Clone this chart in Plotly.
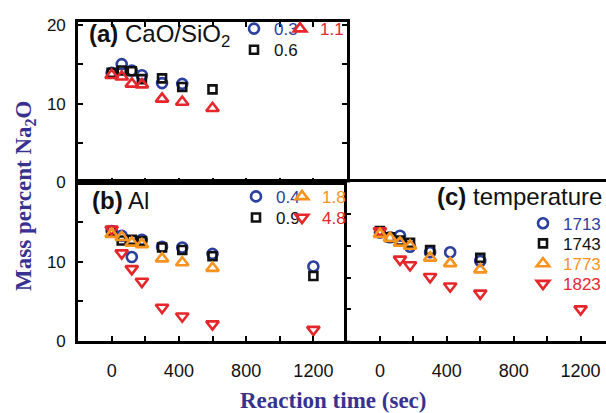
import plotly.graph_objects as go

# ---------------- data ----------------
# panel (a): CaO/SiO2
t_a = [0, 60, 120, 180, 300, 420, 600]
a_03 = [13.9, 15.0, 14.2, 13.6, 12.6, 12.5]
a_06 = [13.9, 14.2, 14.1, 13.1, 13.2, 12.1, 11.8]
a_11 = [13.6, 13.4, 12.5, 12.4, 10.6, 10.2, 9.4]

# panel (b): Al
t_b = [0, 60, 120, 180, 300, 420, 600, 1200]
b_04 = [13.9, 13.3, 10.6, 12.8, 11.9, 11.8, 11.0, 9.4]
b_09 = [13.9, 12.7, 12.8, 12.6, 11.8, 11.5, 10.7, 8.2]
b_18 = [13.5, 13.1, 12.4, 12.2, 10.4, 9.9, 9.2]
b_48 = [14.1, 11.1, 9.1, 7.5, 4.2, 3.1, 2.1, 1.4]

# panel (c): temperature
t_c1713 = [0, 60, 120, 180, 300, 420, 600]
c_1713 = [13.7, 13.1, 13.3, 11.9, 11.2, 11.2, 10.1]
t_c1743 = [0, 60, 120, 180, 300, 600]
c_1743 = [13.9, 13.1, 12.7, 12.4, 11.5, 10.5]
t_c1773 = [0, 60, 120, 180, 300, 420, 600]
c_1773 = [13.5, 13.0, 12.4, 12.0, 10.5, 9.8, 9.0]
t_c1823 = [0, 120, 180, 300, 420, 600, 1200]
c_1823 = [13.9, 10.3, 9.6, 8.1, 6.9, 6.0, 4.0]

x_tick_vals = [0, 200, 400, 600, 800, 1000, 1200]
x_tick_text = ["0", "", "400", "", "800", "", "1200"]
ya_tick_vals = [0, 5, 10, 15, 20]
ya_tick_text = ["0", "", "10", "", "20"]
yb_tick_vals = [0, 5, 10, 15]
yb_tick_text = ["0", "", "10", ""]
yc_tick_vals = [4, 8, 12, 16]

# ---------------- style ----------------
BLUE = "#2b3f9e"
BLACK = "#111111"
RED = "#e5262b"
ORANGE = "#f7931e"
TITLE_C = "#38318f"
W, H = 606, 413
LW = 2.6
MLW = 2.6


def mk(symbol, color, size):
    return dict(symbol=symbol, size=size, color=color,
                line=dict(color=color, width=MLW))


def lname(txt, color):
    return f"<span style='color:{color}'>{txt}</span>"


fig = go.Figure()
# panel (a)
fig.add_trace(go.Scatter(x=t_a[:len(a_03)], y=a_03, mode="markers", marker=mk("circle-open", BLUE, 10),
                         name=lname("0.3", BLUE), legend="legend", xaxis="x", yaxis="y"))
fig.add_trace(go.Scatter(x=t_a, y=a_06, mode="markers", marker=mk("square-open", BLACK, 8),
                         name=lname("0.6", BLACK), legend="legend3", xaxis="x", yaxis="y"))
fig.add_trace(go.Scatter(x=t_a, y=a_11, mode="markers", marker=mk("triangle-up-open", RED, 11),
                         name=lname("1.1", RED), legend="legend2", xaxis="x", yaxis="y"))
# panel (b)
fig.add_trace(go.Scatter(x=t_b, y=b_04, mode="markers", marker=mk("circle-open", BLUE, 10),
                         name=lname("0.4", BLUE), legend="legend4", xaxis="x2", yaxis="y2"))
fig.add_trace(go.Scatter(x=t_b, y=b_09, mode="markers", marker=mk("square-open", BLACK, 8),
                         name=lname("0.9", BLACK), legend="legend6", xaxis="x2", yaxis="y2"))
fig.add_trace(go.Scatter(x=t_b, y=b_48, mode="markers", marker=mk("triangle-down-open", RED, 11),
                         name=lname("4.8", RED), legend="legend7", xaxis="x2", yaxis="y2"))
fig.add_trace(go.Scatter(x=t_b[:len(b_18)], y=b_18, mode="markers", marker=mk("triangle-up-open", ORANGE, 11),
                         name=lname("1.8", ORANGE), legend="legend5", xaxis="x2", yaxis="y2"))
# panel (c)
fig.add_trace(go.Scatter(x=t_c1713, y=c_1713, mode="markers", marker=mk("circle-open", BLUE, 10),
                         name=lname("1713", BLUE), legend="legend8", xaxis="x3", yaxis="y3"))
fig.add_trace(go.Scatter(x=t_c1743, y=c_1743, mode="markers", marker=mk("square-open", BLACK, 8),
                         name=lname("1743", BLACK), legend="legend9", xaxis="x3", yaxis="y3"))
fig.add_trace(go.Scatter(x=t_c1823, y=c_1823, mode="markers", marker=mk("triangle-down-open", RED, 11),
                         name=lname("1823", RED), legend="legend11", xaxis="x3", yaxis="y3"))
fig.add_trace(go.Scatter(x=t_c1773, y=c_1773, mode="markers", marker=mk("triangle-up-open", ORANGE, 11),
                         name=lname("1773", ORANGE), legend="legend10", xaxis="x3", yaxis="y3"))

tick_font = dict(family="Liberation Sans, Arial, sans-serif", size=17, color="#111")
common_ax = dict(showline=True, linewidth=LW, linecolor="black", ticks="inside", ticklen=5,
                 tickwidth=1.5, tickcolor="black", showgrid=False, zeroline=False,
                 tickfont=tick_font)

dom_ab_x = [78 / W, 347 / W]
dom_c_x = [346.5 / W, 1.0]
dom_a_y = [(H - 183) / H, (H - 16) / H]
dom_bc_y = [(H - 348) / H, (H - 183) / H]

fig.update_layout(
    width=W, height=H,
    margin=dict(l=0, r=0, t=0, b=0),
    paper_bgcolor="white", plot_bgcolor="white",
    xaxis=dict(domain=dom_ab_x, range=[-200, 1400], anchor="y", tickmode="array",
               tickvals=x_tick_vals, ticktext=x_tick_text, showticklabels=False,
               mirror="ticks", **common_ax),
    yaxis=dict(domain=dom_a_y, range=[0, 20.3], anchor="x", tickmode="array",
               tickvals=ya_tick_vals, ticktext=ya_tick_text, mirror="ticks",
               ticklabelstandoff=6, **common_ax),
    xaxis2=dict(domain=dom_ab_x, range=[-200, 1400], anchor="y2", tickmode="array",
                tickvals=x_tick_vals, ticktext=x_tick_text, mirror=True,
                ticklabelstandoff=12, **{**common_ax, "tickfont": dict(tick_font, size=18)}),
    yaxis2=dict(domain=dom_bc_y, range=[0, 20.05], anchor="x2", tickmode="array",
                tickvals=yb_tick_vals, ticktext=yb_tick_text, mirror=True,
                ticklabelstandoff=6, **common_ax),
    xaxis3=dict(domain=dom_c_x, range=[-200, 1352], anchor="y3", tickmode="array",
                tickvals=x_tick_vals, ticktext=x_tick_text, mirror=True,
                ticklabelstandoff=12, **{**common_ax, "tickfont": dict(tick_font, size=18)}),
    yaxis3=dict(domain=dom_bc_y, range=[0, 20.05], anchor="x3", tickmode="array",
                tickvals=yc_tick_vals, showticklabels=False, mirror=False, **common_ax),
    showlegend=True,
)

leg_common = dict(bgcolor="rgba(0,0,0,0)", borderwidth=0, itemwidth=30,
                  font=dict(family="Liberation Sans, Arial, sans-serif", size=17),
                  xanchor="left", yanchor="middle", tracegroupgap=0,
                  itemclick=False, itemdoubleclick=False)
leg_right = {**leg_common, "xanchor": "right"}
fig.update_layout(
    # panel (a) keys
    legend=dict(x=234 / W, y=(H - 23) / H, **leg_common),
    legend2=dict(x=280 / W, y=(H - 23) / H, **leg_common),
    legend3=dict(x=234 / W, y=(H - 45) / H, **leg_common),
    # panel (b) keys
    legend4=dict(x=236 / W, y=(H - 198) / H, **leg_common),
    legend5=dict(x=282 / W, y=(H - 198) / H, **leg_common),
    legend6=dict(x=236 / W, y=(H - 220) / H, **leg_common),
    legend7=dict(x=282 / W, y=(H - 220) / H, **leg_common),
    # panel (c) keys
    legend8=dict(x=1.0, y=(H - 226) / H, **leg_right),
    legend9=dict(x=1.0, y=(H - 247) / H, **leg_right),
    legend10=dict(x=1.0, y=(H - 268) / H, **leg_right),
    legend11=dict(x=1.0, y=(H - 289) / H, **leg_right),
)

panel_font = dict(family="Liberation Sans, Arial, sans-serif", size=24, color="#111")
ann = [
    dict(text="<b>(a)</b> CaO/SiO<sub>2</sub>", x=87 / W, y=(H - 30) / H, xanchor="left", yanchor="middle"),
    dict(text="<b>(b)</b> Al", x=90 / W, y=(H - 202) / H, xanchor="left", yanchor="middle"),
    dict(text="<b>(c)</b> temperature", x=604 / W, y=(H - 198) / H, xanchor="right", yanchor="middle"),
]
for a in ann:
    fig.add_annotation(xref="paper", yref="paper", showarrow=False, font=panel_font, **a)

title_font = dict(family="Liberation Serif, Times New Roman, serif", size=23, color=TITLE_C)
fig.add_annotation(text="<b>Reaction time (sec)</b>", xref="paper", yref="paper",
                   x=333 / W, y=-12 / H, xanchor="center", yanchor="bottom",
                   showarrow=False, font=title_font)
fig.add_annotation(text="<b>Mass percent Na<sub>2</sub>O</b>", xref="paper", yref="paper",
                   x=25 / W, y=(H - 197) / H, xanchor="center", yanchor="middle",
                   textangle=-90, showarrow=False, font=dict(title_font, size=23))

fig.write_html("out.html", config={"displayModeBar": False},
               post_script="document.body.style.margin='0';document.body.style.overflow='hidden';")
